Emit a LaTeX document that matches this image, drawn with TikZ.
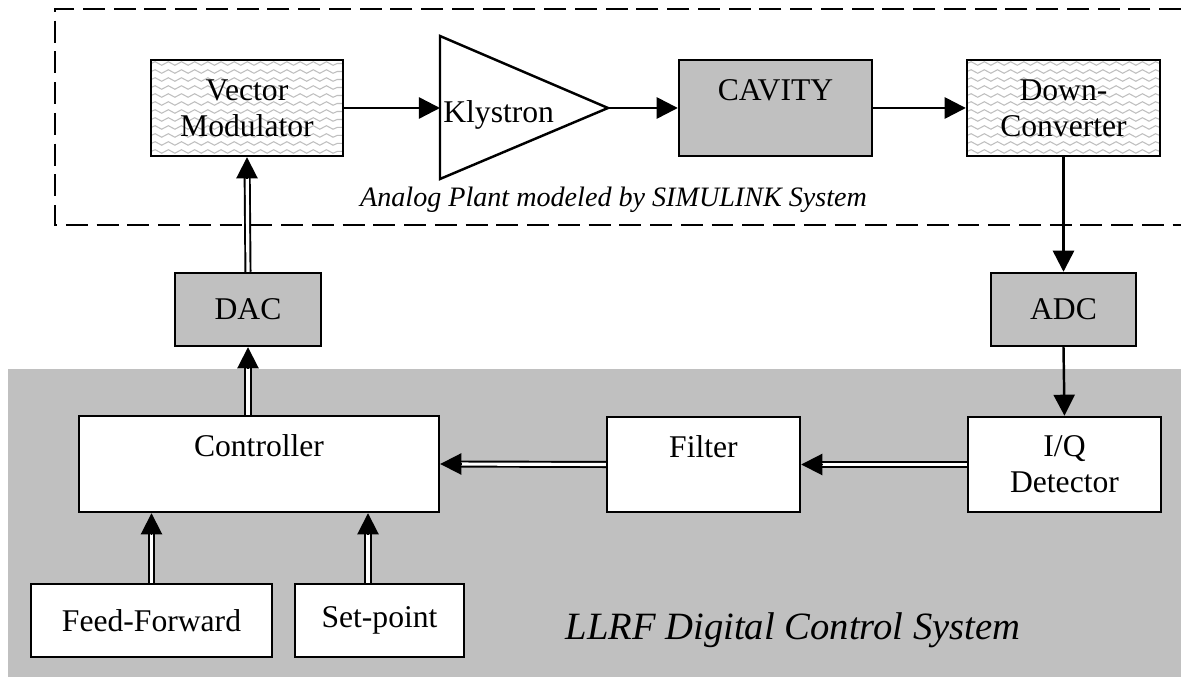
\documentclass[tikz,border=0pt]{standalone}
\usepackage{fontspec}
\setmainfont{Liberation Serif}
\usetikzlibrary{positioning,arrows.meta}
\usetikzlibrary{decorations.pathmorphing}

\definecolor{panel}{RGB}{192,192,192}

\tikzset{
  block/.style={draw, line width=1.4pt, fill=white, align=center,
    inner sep=0pt, font=\fontsize{18}{20.5}\selectfont},
  hw/.style={block, fill=panel},
  wave/.style={draw=black!25, line width=0.6pt, decorate,
    decoration={snake, amplitude=1pt, segment length=7.5pt}},
  wavy/.style={block, path picture={
      \foreach \k in {0,...,12}
        \draw[wave] ([yshift=-\k*4.55pt-2pt]path picture bounding box.north west)
                 -- ([yshift=-\k*4.55pt-2pt]path picture bounding box.north east);
    }},
  sig/.style={line width=1.4pt, -{Triangle[length=12pt,width=12pt]}},
  bus/.style={double, double distance=1.8pt, line width=1.1pt, shorten >=11pt},
  head/.style={line width=1.1pt, -{Triangle[length=12pt,width=12pt]}},
  plant/.style={line width=1.6pt, dash pattern=on 12.5pt off 5pt},
}

\begin{document}
\begin{tikzpicture}[x=0.02cm,y=-0.02cm]
  \useasboundingbox (0,0) rectangle (1181,678);

  % digital side background
  \fill[panel] (8,369) rectangle (1181,677);

  % analog plant frame, open to the right
  \draw[plant] (1181,9) -- (55,9) -- (55,225) -- (1181,225);

  % analog plant
  \node[wavy, minimum width=3.84cm, minimum height=1.92cm] (vm) at (247,108) {Vector\\Modulator};
  \coordinate (klyin) at (440,108);
  \coordinate (klyout) at (608,108);
  \draw[line width=1.4pt, line join=miter] (440,36) -- (klyout) -- (440,179) -- cycle;
  \node[anchor=base west, inner sep=0pt, font=\fontsize{18}{20.5}\selectfont] (kly) at (443,123) {Klystron};
  \node[hw, minimum width=3.86cm, minimum height=1.92cm] (cav) at (775.5,108) {CAVITY\\ \mbox{}};
  \node[wavy, minimum width=3.86cm, minimum height=1.92cm] (dc) at (1063.5,108) {Down-\\Converter};

  \node[anchor=base, inner sep=0pt, font=\fontsize{16}{19}\selectfont\itshape] (plantlbl) at (613.5,207)
    {Analog Plant modeled by SIMULINK System};

  % converters
  \node[hw, minimum width=2.92cm, minimum height=1.46cm] (dac) at (248,309.5) {DAC};
  \node[hw, minimum width=2.9cm, minimum height=1.46cm] (adc) at (1063.5,309.5) {ADC};

  % digital control
  \node[block, minimum width=7.2cm, minimum height=1.92cm] (ctrl) at (259,464) {Controller\\ \mbox{}};
  \node[block, minimum width=3.86cm, minimum height=1.9cm] (filt) at (703.5,464.5) {Filter\\ \mbox{}};
  \node[block, minimum width=3.86cm, minimum height=1.9cm] (iq) at (1064.5,464.5) {I/Q\\Detector};
  \node[block, minimum width=4.82cm, minimum height=1.46cm] (ff) at (151.5,620.5) {Feed-Forward};
  \node[block, minimum width=3.38cm, minimum height=1.46cm] (sp) at (379.5,620.5) {Set-point};

  \node[anchor=base, inner sep=0pt, font=\fontsize{22}{26}\selectfont\itshape] (llrflbl) at (793,640)
    {LLRF Digital Control System};

  % RF path
  \draw[sig] (vm.east) -- (klyin);
  \draw[sig] (klyout) -- (cav.west);
  \draw[sig] (cav.east) -- (dc.west);
  \draw[sig] (dc.south) -- (adc.north);
  \draw[sig] (adc.south) -- (iq.north);

  % digital buses
  \draw[bus] (iq.west) -- (filt.east);
  \draw[head] ([xshift=12pt]filt.east) -- (filt.east);
  \draw[bus] (filt.west) -- (ctrl.east);
  \draw[head] ([xshift=12pt]ctrl.east) -- (ctrl.east);

  \coordinate (ctrlout) at (dac.south |- ctrl.north);
  \draw[bus] (ctrlout) -- (dac.south);
  \draw[head] ([yshift=-12pt]dac.south) -- (dac.south);
  \draw[bus] (dac.north) -- (vm.south);
  \draw[head] ([yshift=-12pt]vm.south) -- (vm.south);

  \coordinate (ffin) at (ff.north |- ctrl.south);
  \draw[bus] (ff.north) -- (ffin);
  \draw[head] ([yshift=-12pt]ffin) -- (ffin);

  \coordinate (spout) at ([xshift=-0.23cm]sp.north);
  \coordinate (spin) at (spout |- ctrl.south);
  \draw[bus] (spout) -- (spin);
  \draw[head] ([yshift=-12pt]spin) -- (spin);
\end{tikzpicture}
\end{document}
